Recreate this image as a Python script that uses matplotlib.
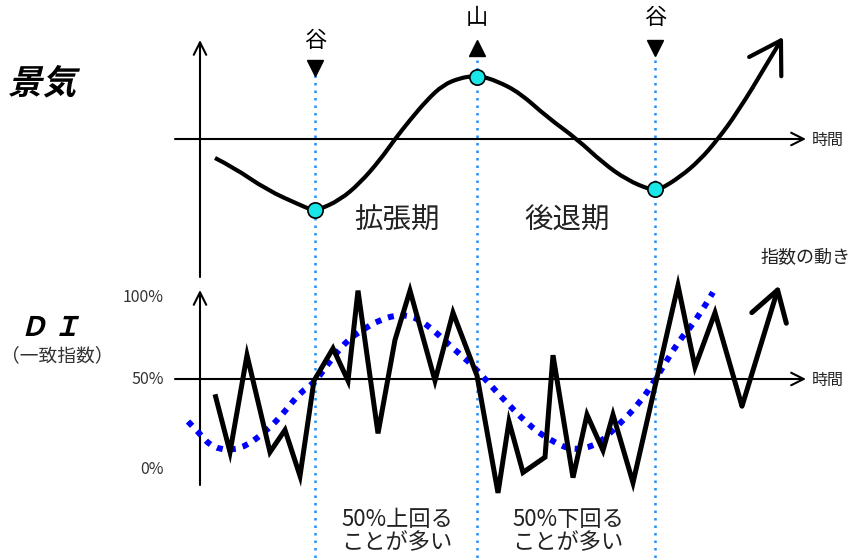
import matplotlib.pyplot as plt
from matplotlib.font_manager import FontProperties
from matplotlib.textpath import TextPath
from matplotlib.patches import PathPatch
from matplotlib.path import Path
from matplotlib.transforms import Affine2D

plt.rcParams['font.family'] = ['Noto Sans CJK JP', 'DejaVu Sans']

# business cycle curve (time, level above the time axis)
cycle_t = [215, 233, 267, 300, 312, 318, 340, 360, 380, 395, 410, 427, 443,
           460, 474, 480, 497, 520, 547, 577, 603, 627, 651, 659, 680, 700,
           718, 737, 753]
cycle_v = [-19, -28, -51, -66, -71, -71, -61, -44, -21, 0, 19, 39, 54,
           61, 63, 63, 58, 46, 22, 0, -24, -41, -51, -51, -38, -21,
           0, 26, 52]
cycle_tip = (783, 102)

# turning points
turn_t = [315, 477, 655]
turn_v = [-71, 62, -50]
turn_lbl = ['谷', '山', '谷']

# DI (coincident index) in percent
di_t = [215, 230, 247, 270, 285, 300, 314, 333, 348, 358, 378, 395, 410,
        435, 453, 477, 498, 509, 523, 545, 553, 573, 587, 603, 613, 633,
        678, 695, 715, 742]
di_v = [41, 7, 64, 7, 20, -7, 49, 68, 49, 102, 18, 73, 102,
        49, 89, 52, -17, 25, -5, 4, 64, -8, 29, 8, 29, -11,
        105, 57, 89, 34]
di_tip = (779, 105)

# smoothed DI trend
trend_t = [188, 198, 213, 240, 268, 285, 300, 315, 333, 348, 360, 380, 400,
           417, 435, 453, 473, 497, 530, 553, 573, 597, 617, 640, 657, 678,
           697, 713]
trend_v = [25, 19, 9, 8, 20, 31, 42, 48, 63, 73, 78, 85, 88,
           86, 78, 68, 58, 42, 22, 13, 8, 11, 22, 36, 51, 72,
           85, 101]

di_ticks = [100, 50, 0]


def smooth_path(xs, ys):
    # quadratic B-spline through the read points
    pts = list(zip(xs, ys))
    verts = [pts[0]]
    codes = [Path.MOVETO]
    for i in range(1, len(pts) - 1):
        nxt = pts[i + 1] if i == len(pts) - 2 else (
            (pts[i][0] + pts[i + 1][0]) / 2, (pts[i][1] + pts[i + 1][1]) / 2)
        verts += [pts[i], nxt]
        codes += [Path.CURVE3, Path.CURVE3]
    return Path(verts, codes)


fig = plt.figure(figsize=(8.55, 5.6), dpi=100)

# layout axes in pixel units
ax = fig.add_axes([0, 0, 1, 1])
ax.set_xlim(0, 855)
ax.set_ylim(560, 0)
ax.axis('off')

# upper panel: level units, time axis at pixel row 139
ax1 = fig.add_axes([0, 0, 1, 1], sharex=ax)
ax1.set_ylim(139 - 560, 139)
ax1.axis('off')
ax1.patch.set_alpha(0)

# lower panel: DI percent, 0% at row 464, 1% = 1.7 px
ax2 = fig.add_axes([0, 0, 1, 1], sharex=ax)
ax2.set_ylim((464 - 560) / 1.7, 464 / 1.7)
ax2.axis('off')
ax2.patch.set_alpha(0)

# vertical dotted lines at turning points
for t in turn_t:
    ax.plot([t, t], [75 if t == 315 else 60, 560], color='#1e90ff', lw=1.8,
            ls=(0, (1, 2)), zorder=1)

axis_arrow = dict(arrowstyle='->,head_length=0.9,head_width=0.45', lw=1.5,
                  color='black', shrinkA=0, shrinkB=0)
# upper axes
ax.annotate('', xy=(200, 40), xytext=(200, 277), arrowprops=axis_arrow)
ax.annotate('', xy=(806, 139), xytext=(175, 139), arrowprops=axis_arrow)
ax.text(812, 140, '時間', fontsize=11.5, va='center', ha='left', color='#222')
# lower axes
ax.annotate('', xy=(200, 290), xytext=(200, 485), arrowprops=axis_arrow)
ax.annotate('', xy=(806, 379), xytext=(175, 379), arrowprops=axis_arrow)
ax.text(812, 380, '時間', fontsize=11.5, va='center', ha='left', color='#222')

# business cycle curve
ax1.add_patch(PathPatch(smooth_path(cycle_t, cycle_v), fill=False, lw=3,
                        ec='black', capstyle='butt', zorder=3))
ax1.annotate('', xy=cycle_tip, xytext=(cycle_t[-1], cycle_v[-1]),
             arrowprops=dict(arrowstyle='->,head_length=2.2,head_width=1.35',
                             lw=3, color='black', shrinkA=0, shrinkB=0,
                             mutation_scale=10), zorder=3)
ax1.plot(turn_t, turn_v, 'o', ms=11, mfc='#19e6e6', mec='black', mew=1.2,
         zorder=4)

# turning point markers and labels
ax.plot(turn_t[0], 68, 'v', ms=11, color='black')
ax.plot(turn_t[1], 48, '^', ms=11, color='black')
ax.plot(turn_t[2], 48, 'v', ms=11, color='black')
ax.text(turn_t[0], 40, turn_lbl[0], fontsize=16, ha='center', va='center')
ax.text(turn_t[1], 17, turn_lbl[1], fontsize=16, ha='center', va='center')
ax.text(turn_t[2], 17, turn_lbl[2], fontsize=16, ha='center', va='center')

ax.text(397, 221, '拡張期', fontsize=20.5, ha='center', va='center', color='#222')
ax.text(567, 221, '後退期', fontsize=20.5, ha='center', va='center', color='#222')
ax.text(805, 257, '指数の動き', fontsize=13, ha='center', va='center', color='#222')

# italic bold titles
fp = FontProperties(family='Noto Sans CJK JP', weight='bold')
for s, x, y, size in [('景気', 8, 94, 34), ('Ｄ Ｉ', 20, 336, 27)]:
    tp = TextPath((0, 0), s, size=size, prop=fp)
    tr = Affine2D().skew_deg(14, 0).scale(1, -1).translate(x, y) + ax.transData
    ax.add_patch(PathPatch(tp, transform=tr, color='black', lw=0))
ax.text(57, 356, '（一致指数）', fontsize=13.5, ha='center', va='center', color='#333')

# DI tick labels
for v, off in zip(di_ticks, [-1.8, 0, -3.5]):
    ax2.text(164, v + off, f'{v}%', fontsize=11.5, ha='right', va='center',
             color='#333')

# DI trend and DI line
ax2.add_patch(PathPatch(smooth_path(trend_t, trend_v), fill=False,
                        ec='#0000ff', lw=4.3, ls=(0, (1, 1.2)), zorder=2))
ax2.plot(di_t, di_v, color='black', lw=3.6, solid_joinstyle='miter',
         solid_capstyle='butt', zorder=3)
ax2.annotate('', xy=di_tip, xytext=(di_t[-1], di_v[-1]),
             arrowprops=dict(arrowstyle='->,head_length=2.1,head_width=1.3',
                             lw=3.6, color='black', shrinkA=0, shrinkB=0,
                             mutation_scale=10), zorder=3)

ax.text(397, 531, '50%上回る\nことが多い', fontsize=16, ha='center', va='center',
        linespacing=1.05, color='#222')
ax.text(568, 531, '50%下回る\nことが多い', fontsize=16, ha='center', va='center',
        linespacing=1.05, color='#222')

fig.savefig('out.png', dpi=100, facecolor='white')
